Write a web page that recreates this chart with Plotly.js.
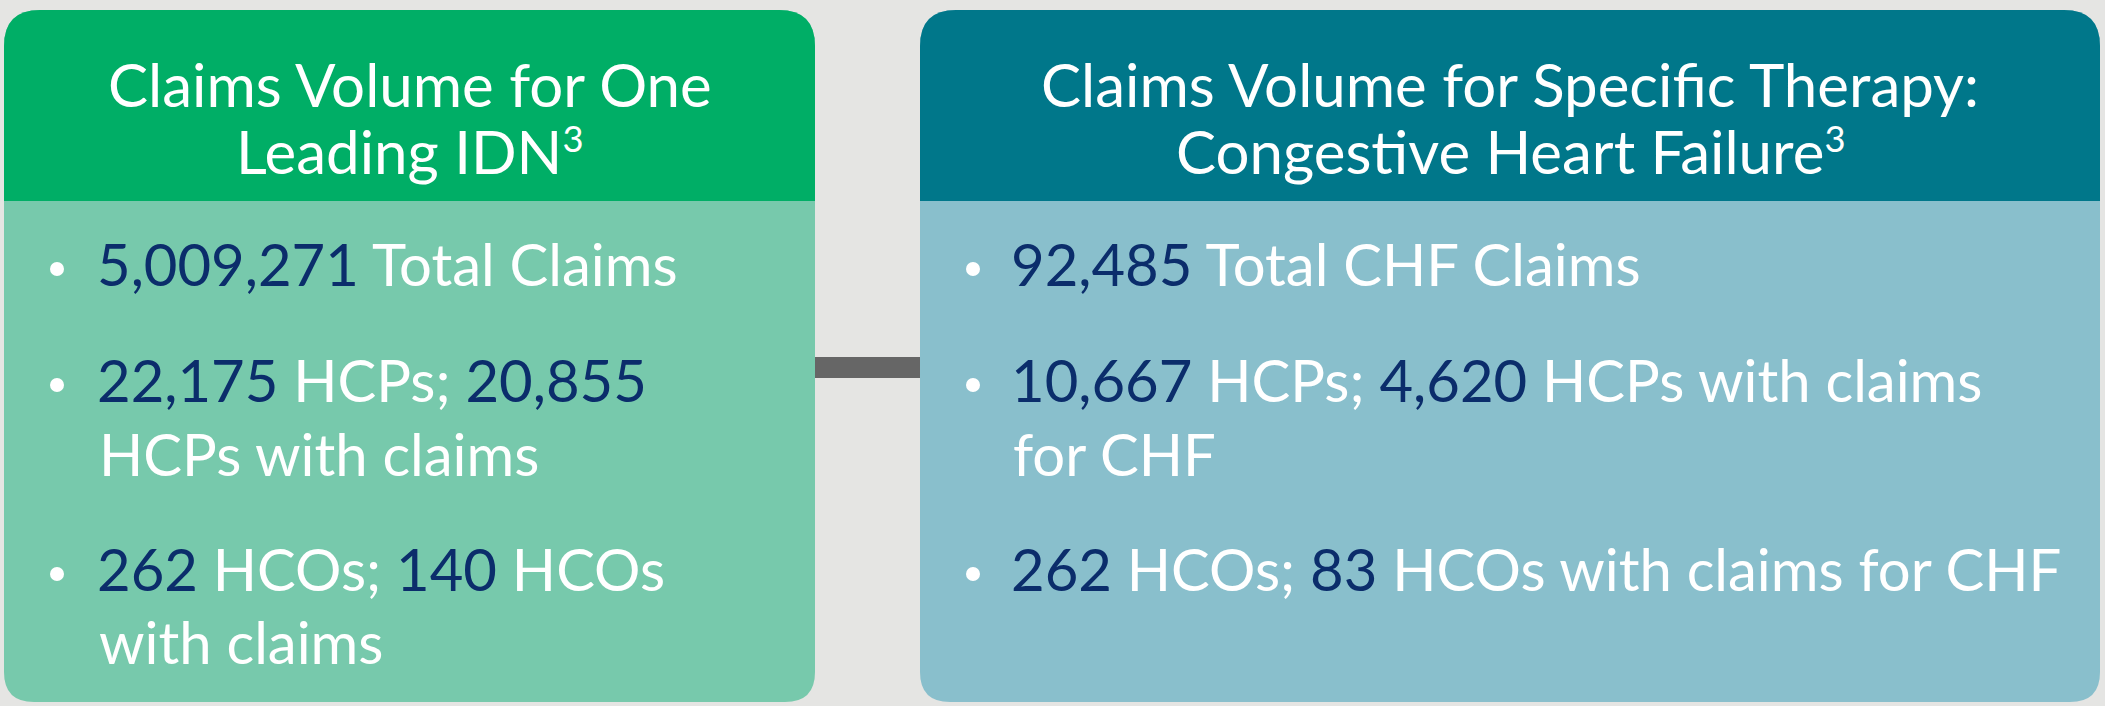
<!DOCTYPE html>
<html>
<head>
<meta charset="utf-8">
<script src="https://cdn.plot.ly/plotly-3.0.1.min.js"></script>
<style>html,body{margin:0;padding:0;background:#e5e5e3;}#chart{width:2105px;height:706px;}</style>
</head>
<body>
<div id="chart"></div>
<script>
// ---- Content ----
const leftTitle = ["Claims Volume for One", "Leading IDN{sup:3}"];
const rightTitle = ["Claims Volume for Specific Therapy:", "Congestive Heart Failure{sup:3}"];
// numbers in {braces} are highlighted in navy
const leftBullets = [
  ["{5,009,271} Total Claims"],
  ["{22,175} HCPs; {20,855}", "HCPs with claims"],
  ["{262} HCOs; {140} HCOs", "with claims"]
];
const rightBullets = [
  ["{92,485} Total CHF Claims"],
  ["{10,667} HCPs; {4,620} HCPs with claims", "for CHF"],
  ["{262} HCOs; {83} HCOs with claims for CHF"]
];

// ---- Styling ----
const C = {
  bg: "#e5e5e3",
  leftHead: "#00ae66",
  leftBody: "#77c9ac",
  rightHead: "#00778a",
  rightBody: "#89bfcc",
  navy: "#0b2d6b",
  connector: "#666666"
};
const FONT = "Lato, 'Noto Sans', sans-serif";
const HEAD_SIZE = 60, BODY_SIZE = 58;

function rr(x0, y0, x1, y1, rt, rb) {
  return `M ${x0} ${y0 + rt} Q ${x0} ${y0} ${x0 + rt} ${y0} L ${x1 - rt} ${y0} Q ${x1} ${y0} ${x1} ${y0 + rt}` +
         ` L ${x1} ${y1 - rb} Q ${x1} ${y1} ${x1 - rb} ${y1} L ${x0 + rb} ${y1} Q ${x0} ${y1} ${x0} ${y1 - rb} Z`;
}

const panels = [
  {x0: 4, x1: 815, head: C.leftHead, body: C.leftBody, title: leftTitle, bullets: leftBullets,
   dotX: 57, textX: 95, baselines: [[287], [403, 477], [592, 665]]},
  {x0: 920, x1: 2100, head: C.rightHead, body: C.rightBody, title: rightTitle, bullets: rightBullets,
   dotX: 973, textX: 1009, baselines: [[287], [403, 477], [592]]}
];
const TOP = 10, HEAD_BOTTOM = 201, BOTTOM = 702, RT = 36, RB = 30;

const shapes = [];
const annotations = [];

shapes.push({type: "rect", xref: "x", yref: "y", x0: 815, x1: 920, y0: 357, y1: 378,
  fillcolor: C.connector, line: {width: 0}, layer: "below"});

function fmt(s) {
  return s
    .replace(/\{sup:([^}]*)\}/g, `<span style="font-size:52px"><sup>$1</sup></span>`)
    .replace(/\{([^}]*)\}/g, `<span style="color:${C.navy}">$1</span>`);
}

const BASE_OFF = 0.40;

panels.forEach(p => {
  shapes.push({type: "path", xref: "x", yref: "y", path: rr(p.x0, TOP, p.x1, BOTTOM, RT, RB),
    fillcolor: p.body, line: {width: 0}, layer: "below"});
  shapes.push({type: "path", xref: "x", yref: "y", path: rr(p.x0, TOP, p.x1, HEAD_BOTTOM, RT, 0),
    fillcolor: p.head, line: {width: 0}, layer: "below"});
  const cx = (p.x0 + p.x1) / 2;
  const headBase = [108, 175];
  p.title.forEach((t, i) => {
    annotations.push({xref: "x", yref: "y", x: cx, y: headBase[i] - BASE_OFF * HEAD_SIZE,
      xanchor: "center", yanchor: "middle", showarrow: false, text: fmt(t),
      font: {family: FONT, size: HEAD_SIZE, color: "#ffffff"}});
  });
  p.bullets.forEach((lines, bi) => {
    const bl = p.baselines[bi];
    shapes.push({type: "circle", xref: "x", yref: "y",
      x0: p.dotX - 7, x1: p.dotX + 7, y0: bl[0] - 18 - 7, y1: bl[0] - 18 + 7,
      fillcolor: "#ffffff", line: {width: 0}});
    lines.forEach((ln, li) => {
      annotations.push({xref: "x", yref: "y", x: p.textX + (li > 0 ? 2 : 0), y: bl[li] - BASE_OFF * BODY_SIZE,
        xanchor: "left", yanchor: "middle", showarrow: false, text: fmt(ln),
        font: {family: FONT, size: BODY_SIZE, color: "#ffffff"}});
    });
  });
});

const layout = {
  width: 2105, height: 706,
  margin: {l: 0, r: 0, t: 0, b: 0},
  paper_bgcolor: C.bg, plot_bgcolor: C.bg,
  xaxis: {range: [0, 2105], visible: false, fixedrange: true},
  yaxis: {range: [706, 0], visible: false, fixedrange: true},
  shapes: shapes,
  annotations: annotations,
  showlegend: false
};

Plotly.newPlot("chart", [], layout, {staticPlot: true, displayModeBar: false});
</script>
</body>
</html>
